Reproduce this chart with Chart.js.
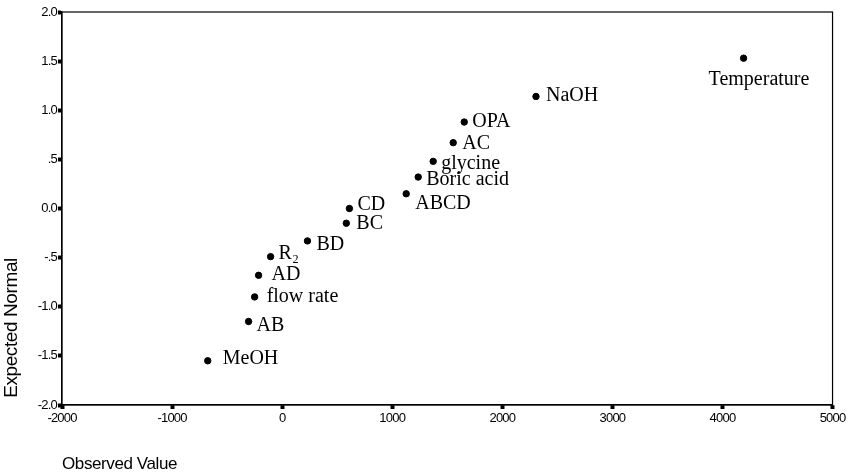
<!DOCTYPE html>
<html>
<head>
<meta charset="utf-8">
<script src="https://cdn.jsdelivr.net/npm/chart.js@4"></script>
<style>
  body { margin: 0; background: #fff; }
  #wrap { width: 849px; height: 474px; }
</style>
</head>
<body>
<div id="wrap"><canvas id="plot" width="849" height="474"></canvas></div>
<script>
// DATA

const factors = ["MeOH", "AB", "flow rate", "AD", "R\u2082", "BD", "BC", "CD",
  "ABCD", "Boric acid", "glycine", "AC", "OPA", "NaOH", "Temperature"];
const observed = [-676, -305, -250, -214, -105, 230, 583, 611,
  1127, 1236, 1372, 1554, 1654, 2306, 4192];
const expected = [-1.55, -1.15, -0.9, -0.68, -0.49, -0.33, -0.15, 0.0,
  0.15, 0.32, 0.48, 0.67, 0.88, 1.14, 1.53];

const xTicks = [-2000, -1000, 0, 1000, 2000, 3000, 4000, 5000];
const yTickLabels = ["-2.0", "-1.5", "-1.0", "-.5", "0.0", ".5", "1.0", "1.5", "2.0"];

// where each label sits relative to its dot (dx, dy in px)
const labelOffsets = [
  [15, -2], [8, 4], [12, 0], [13, -1], [8, -3], [9, 4], [10, 1], [8, -4],
  [9, 10], [8, 3], [8, 2], [9, 1], [8, 0], [10, -1], [-35, 22]
];

const points = observed.map((x, i) => ({ x, y: expected[i] }));

// PLUGINS

const frame = {
  id: "frame",
  beforeDraw(chart) {
    chart.ctx.letterSpacing = "-0.8px";
  },
  afterDraw(chart) {
    const { ctx, chartArea: a } = chart;
    ctx.save();
    ctx.strokeStyle = "#000";
    ctx.lineWidth = 1.2;
    ctx.strokeRect(a.left, a.top, a.right - a.left, a.bottom - a.top);

    // axis titles
    ctx.letterSpacing = "-0.4px";
    ctx.fillStyle = "#000";
    ctx.font = "17px 'Liberation Sans'";
    ctx.textAlign = "left";
    ctx.textBaseline = "middle";
    ctx.fillText("Observed Value", 62, 464);

    ctx.translate(12, 328);
    ctx.rotate(-Math.PI / 2);
    ctx.textAlign = "center";
    ctx.font = "19px 'Liberation Sans'";
    ctx.fillText("Expected Normal", 0, 0);
    ctx.restore();
  }
};

const pointLabels = {
  id: "pointLabels",
  afterDatasetsDraw(chart) {
    const ctx = chart.ctx;
    const meta = chart.getDatasetMeta(0);
    ctx.save();
    ctx.letterSpacing = "0px";
    ctx.fillStyle = "#000";
    ctx.font = "20px 'Liberation Serif'";
    ctx.textAlign = "left";
    ctx.textBaseline = "middle";
    meta.data.forEach((pt, i) => {
      const off = labelOffsets[i];
      ctx.fillText(factors[i], pt.x + off[0], pt.y + off[1]);
    });
    ctx.restore();
  }
};

// CHART

Chart.defaults.font.family = "'Liberation Sans', Arial, sans-serif";
Chart.defaults.color = "#000";

new Chart(document.getElementById("plot").getContext("2d"), {
  type: "scatter",
  data: {
    datasets: [{
      data: points,
      backgroundColor: "#000",
      borderColor: "#000",
      pointRadius: 3.2,
      pointHoverRadius: 3.2
    }]
  },
  options: {
    responsive: false,
    animation: false,
    layout: { padding: { left: 0, right: 15, top: 12, bottom: 0 } },
    plugins: {
      legend: { display: false },
      tooltip: { enabled: false }
    },
    scales: {
      x: {
        type: "linear",
        min: -2000,
        max: 5000,
        afterBuildTicks(scale) {
          scale.ticks = xTicks.map(v => ({ value: v }));
        },
        afterFit(scale) { scale.height = 69; },
        ticks: {
          font: { size: 13 },
          padding: 2,
          maxRotation: 0,
          callback: v => String(v)
        },
        grid: {
          drawOnChartArea: false,
          tickLength: 4,
          tickWidth: 4,
          tickColor: "#000"
        },
        border: { display: true, color: "#000", width: 1.2 }
      },
      y: {
        type: "linear",
        min: -2,
        max: 2,
        afterFit(scale) { scale.width = 62; },
        ticks: {
          stepSize: 0.5,
          font: { size: 13 },
          padding: 1,
          callback: (v, i) => yTickLabels[i]
        },
        grid: {
          drawOnChartArea: false,
          tickLength: 4,
          tickWidth: 4,
          tickColor: "#000"
        },
        border: { display: true, color: "#000", width: 1.2 }
      }
    }
  },
  plugins: [frame, pointLabels]
});
</script>
</body>
</html>
